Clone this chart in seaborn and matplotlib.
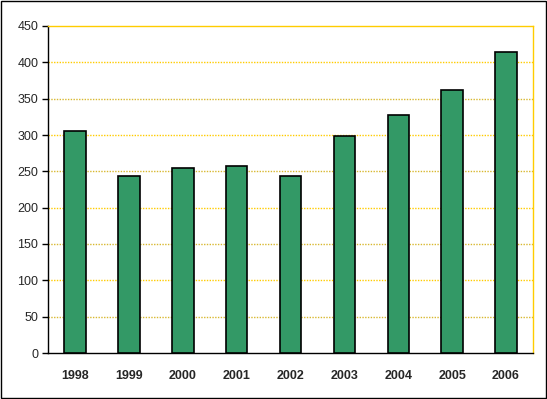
import matplotlib
matplotlib.use("Agg")
import matplotlib.pyplot as plt
import seaborn as sns
import pandas as pd
import numpy as np
from matplotlib.patches import Rectangle

years = ["1998", "1999", "2000", "2001", "2002", "2003", "2004", "2005", "2006"]
values = [305, 243, 254, 258, 244, 299, 327, 362, 414]
yticks = [0, 50, 100, 150, 200, 250, 300, 350, 400, 450]

sns.set_style("white")
plt.rcParams['font.family'] = ['Liberation Sans', 'DejaVu Sans']

df = pd.DataFrame({"year": years, "value": values})

fig = plt.figure(figsize=(5.47, 3.99), dpi=100)
ax = fig.add_axes([48/547, 1 - 353/399, (533-48)/547, (353-26)/399])

sns.barplot(data=df, x="year", y="value", ax=ax, color="#339966",
            edgecolor="black", linewidth=1.2, width=0.40, saturation=1, zorder=3)

ax.set_xlim(-0.5, len(years) - 0.5)
ax.set_ylim(0, 450)
ax.set_yticks(yticks)
ax.set_yticklabels([str(t) for t in yticks], fontsize=9)
ax.set_xlabel("")
ax.set_ylabel("")
ax.set_xticks(range(len(years)))
ax.set_xticklabels(years, fontsize=9, fontweight="bold")
ax.set_xticks(np.arange(-0.5, len(years), 1.0), minor=True)
ax.tick_params(axis="x", which="major", length=0, pad=12)
ax.tick_params(axis="x", which="minor", length=4, width=1, color="black", direction="out")
ax.tick_params(axis="y", length=4, width=1, color="black", direction="out", pad=3, left=True)

ax.yaxis.grid(True, linestyle=(0, (1, 1)), linewidth=1, zorder=0)
for t, gl in zip(yticks, ax.get_ygridlines()):
    if t % 100 == 0:
        gl.set_color("#FFCC00")
    else:
        gl.set_color("#D8B830")
    if t == 450 or t == 0:
        gl.set_visible(False)
ax.set_axisbelow(True)

for s in ["left", "bottom"]:
    ax.spines[s].set_color("black")
    ax.spines[s].set_linewidth(1)
for s in ["top", "right"]:
    ax.spines[s].set_color("#FFCC00")
    ax.spines[s].set_linewidth(1)
    ax.spines[s].set_visible(True)

fig.patches.append(Rectangle((0.5/547, 1.5/399), 545.5/547, 397/399, transform=fig.transFigure,
                             fill=False, edgecolor="black", linewidth=1))

fig.savefig("out.png", dpi=100)
